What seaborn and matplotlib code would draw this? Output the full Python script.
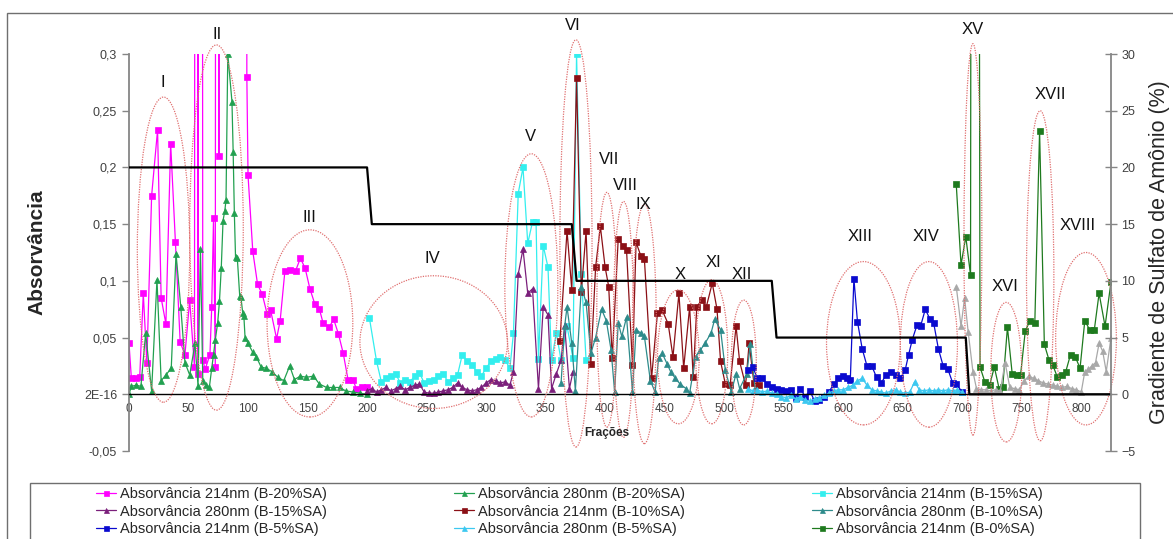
#!/usr/bin/env python3
# coding: utf-8
import pandas as pd
import seaborn as sns
import matplotlib.pyplot as plt
from matplotlib.patches import Ellipse, Rectangle
from matplotlib.ticker import MultipleLocator

# ------------------------------------------------
# Data
# ------------------------------------------------
HI = 3.0  # readings above the top of the scale (clipped by the axes)

b20_214_x = [0, 2, 6, 9, 12, 15, 19, 24, 27, 31, 35, 39, 43, 47, 51, 55, 57, 58, 60, 62,
             64, 68, 69.5, 71, 72.5, 74, 75.5, 77, 85, 98, 99, 100, 104, 108, 112, 116, 119,
             124, 127, 131, 135, 140, 144, 148, 152, 156, 160, 163, 168, 172, 176, 180, 184,
             188, 191, 196, 200]
b20_214_y = [0.045, 0.014, 0.014, 0.015, 0.089, 0.028, 0.175, 0.233, 0.085, 0.062, 0.221,
             0.134, 0.046, 0.035, 0.083, 0.024, HI, 0.018, HI, 0.030, 0.022, 0.035, 0.077,
             0.155, 0.024, HI, 0.210, HI, HI, HI, 0.280, 0.193, 0.126, 0.097, 0.088, 0.071,
             0.074, 0.049, 0.065, 0.109, 0.110, 0.109, 0.120, 0.111, 0.093, 0.080, 0.075,
             0.063, 0.059, 0.066, 0.053, 0.036, 0.013, 0.013, 0.005, 0.006, 0.006]

b20_280_x = [0, 2, 6, 10, 14, 19, 23.5, 27, 31, 35.5, 39.5, 43.5, 47, 51, 55.5, 58, 60, 62,
             65, 67.5, 69.5, 71, 72.5, 74.5, 76, 77.5, 79, 80.5, 81.5, 83, 86.5, 87.5, 88.5,
             89.5, 91, 93, 94, 95.5, 96.5, 97.5, 100, 104, 107, 111, 115, 120, 125, 130, 135,
             139, 144, 149, 155, 160, 166, 171, 177, 182, 188, 194, 200]
b20_280_y = [0.0, 0.007, 0.008, 0.007, 0.054, 0.003, 0.101, 0.012, 0.017, 0.023, 0.124, 0.077,
             0.028, 0.017, 0.045, 0.007, 0.128, 0.012, 0.008, 0.006, 0.023, 0.035, 0.048,
             0.063, 0.082, 0.111, 0.153, 0.162, 0.171, 0.300, 0.258, 0.214, 0.160, 0.121,
             0.120, 0.087, 0.086, 0.072, 0.069, 0.050, 0.045, 0.037, 0.033, 0.024, 0.023,
             0.020, 0.015, 0.012, 0.025, 0.013, 0.016, 0.015, 0.016, 0.009, 0.006, 0.006,
             0.006, 0.003, 0.002, 0.001, 0.000]

b15_214_x = [202, 208, 212, 216, 220, 224, 228, 232, 236, 240, 244, 248, 252, 256, 260, 264,
             268, 272, 276, 280, 284, 288, 292, 296, 300, 304, 308, 312, 316, 320, 323, 327,
             331, 335, 339, 342, 344, 348, 352, 355, 359, 363, 368, 373, 376, 380, 384]
b15_214_y = [0.067, 0.029, 0.011, 0.014, 0.016, 0.018, 0.010, 0.013, 0.011, 0.016, 0.019,
             0.010, 0.012, 0.013, 0.016, 0.018, 0.011, 0.014, 0.017, 0.035, 0.029, 0.026,
             0.020, 0.016, 0.023, 0.029, 0.031, 0.033, 0.030, 0.023, 0.054, 0.177, 0.200,
             0.133, 0.152, 0.152, 0.031, 0.131, 0.112, 0.030, 0.054, 0.030, 0.060, 0.032,
             0.300, 0.106, 0.030]

b15_280_x = [200, 204, 208, 212, 216, 220, 224, 228, 232, 236, 240, 244, 248, 252, 256, 260,
             264, 268, 272, 276, 280, 284, 288, 292, 296, 300, 304, 308, 312, 316, 320, 323,
             327, 331, 335, 339, 344, 348, 352, 355, 359, 363, 366, 370, 373]
b15_280_y = [0.003, 0.005, 0.002, 0.004, 0.006, 0.003, 0.005, 0.007, 0.004, 0.006, 0.008,
             0.009, 0.002, 0.001, 0.001, 0.002, 0.003, 0.004, 0.006, 0.010, 0.006, 0.004,
             0.003, 0.004, 0.006, 0.010, 0.013, 0.012, 0.010, 0.011, 0.008, 0.020, 0.106,
             0.128, 0.089, 0.093, 0.005, 0.077, 0.070, 0.005, 0.018, 0.030, 0.061, 0.005,
             0.020]

b10_214_x = [362, 368, 372, 376, 380, 384, 388, 392, 396, 400, 403, 406, 411, 415, 418, 423,
             426, 430, 433, 439, 444, 448, 453, 457, 462, 466, 471, 474, 477, 481, 485, 490,
             494, 497, 501, 505, 510, 513, 518, 521, 525, 529]
b10_214_y = [0.047, 0.144, 0.092, 0.279, 0.090, 0.144, 0.027, 0.112, 0.148, 0.112, 0.095,
             0.032, 0.137, 0.131, 0.127, 0.026, 0.134, 0.122, 0.119, 0.014, 0.072, 0.074,
             0.062, 0.033, 0.089, 0.023, 0.077, 0.015, 0.077, 0.083, 0.077, 0.098, 0.075,
             0.029, 0.009, 0.008, 0.060, 0.029, 0.008, 0.045, 0.010, 0.008]

b10_280_x = [363, 366, 368, 372, 375, 380, 384, 388, 392, 397, 401, 405, 408, 411, 414, 418,
             423, 426, 430, 433, 438, 442, 445, 448, 452, 455, 459, 463, 468, 471, 476, 480,
             484, 489, 492, 497, 501, 506, 510, 513, 519, 522, 526]
b10_280_y = [0.010, 0.060, 0.077, 0.045, 0.003, 0.095, 0.081, 0.036, 0.050, 0.075, 0.065,
             0.039, 0.002, 0.063, 0.051, 0.068, 0.002, 0.057, 0.054, 0.051, 0.012, 0.002,
             0.032, 0.036, 0.027, 0.020, 0.014, 0.009, 0.005, 0.001, 0.033, 0.039, 0.045,
             0.054, 0.066, 0.057, 0.021, 0.002, 0.018, 0.005, 0.018, 0.044, 0.005]

b5_214_x = [520, 524, 528, 532, 536, 540, 544, 548, 552, 556, 560, 564, 568, 572, 576, 580,
            584, 588, 592, 596, 600, 603, 606, 609, 612, 616, 620, 624, 628, 632, 636, 640,
            644, 648, 652, 655, 658, 662, 665, 669, 673, 676, 680, 684, 688, 692, 695, 700]
b5_214_y = [0.021, 0.024, 0.014, 0.014, 0.009, 0.006, 0.005, 0.004, 0.003, 0.004, -0.003,
            0.005, -0.002, 0.003, -0.006, -0.005, -0.002, 0.002, 0.009, 0.014, 0.016, 0.014,
            0.013, 0.102, 0.064, 0.040, 0.025, 0.025, 0.015, 0.010, 0.017, 0.020, 0.017,
            0.014, 0.021, 0.035, 0.048, 0.061, 0.060, 0.075, 0.066, 0.063, 0.040, 0.025,
            0.022, 0.010, 0.009, 0.002]

b5_280_x = list(range(520, 701, 4))
b5_280_y = [0.005, 0.003, 0.004, 0.002, 0.003, 0.001, 0.000, -0.002, -0.003, -0.001,
            -0.004, -0.002, -0.005, -0.006, -0.004, -0.003, -0.001, 0.001, 0.003, 0.004,
            0.004, 0.006, 0.008, 0.012, 0.014, 0.008, 0.004, 0.003, 0.002, 0.001,
            0.003, 0.004, 0.002, 0.001, 0.002, 0.011, 0.004, 0.003, 0.004, 0.003,
            0.004, 0.003, 0.004, 0.003, 0.004, 0.002]

b0_214_x = [695, 699, 703, 707, 710, 715, 719, 723, 727, 731, 734, 738, 742, 746, 749, 753,
            757, 761, 765, 769, 773, 776, 780, 784, 787, 791, 795, 799, 803, 807, 811, 815,
            820, 825]
b0_214_y = [0.185, 0.114, 0.139, 0.105, HI, 0.024, 0.011, 0.008, 0.024, 0.005, 0.006, 0.059,
            0.018, 0.017, 0.017, 0.056, 0.065, 0.063, 0.232, 0.044, 0.030, 0.026, 0.015,
            0.017, 0.020, 0.035, 0.033, 0.023, 0.065, 0.057, 0.057, 0.089, 0.060, 0.099]

b0_280_x = [695, 699, 702, 705, 709, 712, 716, 720, 724, 728, 732, 736, 740, 744, 748, 752,
            756, 760, 764, 768, 772, 776, 780, 784, 788, 792, 796, 800, 803, 806, 809, 812,
            815, 818, 821, 825]
b0_280_y = [0.095, 0.060, 0.085, 0.055, 0.020, 0.005, 0.004, 0.004, 0.003, 0.004, 0.003,
            0.028, 0.006, 0.005, 0.004, 0.012, 0.016, 0.014, 0.012, 0.010, 0.009, 0.008,
            0.007, 0.006, 0.007, 0.005, 0.004, 0.002, 0.020, 0.022, 0.025, 0.028, 0.045,
            0.038, 0.020, 0.050]

# ammonium sulfate step gradient (right axis, %)
grad_x = [0, 200, 204, 372, 376, 540, 544, 703, 706, 825]
grad_y = [20, 20, 15, 15, 10, 10, 5, 5, 0, 0]

# peak groups: roman numeral, centre (fraction, abs), width, height, label position
peak_names = ["I", "II", "III", "IV", "V", "VI", "VII", "VIII", "IX", "X", "XI", "XII",
              "XIII", "XIV", "XV", "XVI", "XVII", "XVIII"]
peak_cx = [29, 73.5, 152, 256, 338, 375.5, 401.5, 415.5, 433, 461.5, 489.5, 516.5,
           617, 672, 709, 737, 765.5, 804]
peak_cy = [0.1275, 0.147, 0.0625, 0.046, 0.096, 0.133, 0.0745, 0.066, 0.062, 0.033,
           0.0375, 0.028, 0.045, 0.044, 0.1365, 0.0195, 0.1045, 0.049]
peak_w = [44, 45, 72, 124, 44.5, 27, 17, 17, 20, 35, 27, 21, 62, 48, 15, 26, 23, 51]
peak_h = [0.269, 0.322, 0.165, 0.117, 0.232, 0.359, 0.207, 0.208, 0.211, 0.118, 0.127,
          0.110, 0.144, 0.146, 0.345, 0.123, 0.291, 0.152]
label_x = [28.6, 74, 152, 254.5, 337, 373, 403, 417, 432, 463, 491, 515, 614.6, 670, 709,
           736, 774, 797]
label_y = [0.275, 0.317, 0.156, 0.12, 0.227, 0.325, 0.207, 0.184, 0.167, 0.106, 0.116,
           0.106, 0.139, 0.139, 0.322, 0.095, 0.264, 0.149]

series = [
    ("Absorvância 214nm (B-20%SA)", b20_214_x, b20_214_y, "#FF00FF", "s"),
    ("Absorvância 280nm (B-20%SA)", b20_280_x, b20_280_y, "#22A050", "^"),
    ("Absorvância 214nm (B-15%SA)", b15_214_x, b15_214_y, "#33EEEE", "s"),
    ("Absorvância 280nm (B-15%SA)", b15_280_x, b15_280_y, "#7B1F7B", "^"),
    ("Absorvância 214nm (B-10%SA)", b10_214_x, b10_214_y, "#8B1016", "s"),
    ("Absorvância 280nm (B-10%SA)", b10_280_x, b10_280_y, "#2E8B8B", "^"),
    ("Absorvância 214nm (B-5%SA)", b5_214_x, b5_214_y, "#0A0ACF", "s"),
    ("Absorvância 280nm (B-5%SA)", b5_280_x, b5_280_y, "#3CC8F0", "^"),
    ("Absorvância 214nm (B-0%SA)", b0_214_x, b0_214_y, "#1E7A1E", "s"),
    (None, b0_280_x, b0_280_y, "#A8A8A8", "^"),
]

# ------------------------------------------------
# Plot
# ------------------------------------------------
sns.set_theme(style="white")
plt.rcParams['font.family'] = ['Liberation Sans', 'DejaVu Sans']

W, H = 1173, 539
fig = plt.figure(figsize=(W / 100, H / 100), dpi=100)
ax = fig.add_axes([129 / W, 1 - 451 / H, (1111 - 129) / W, (451 - 54) / H])
ax2 = ax.twinx()

for name, xs, ys, color, marker in series:
    df = pd.DataFrame({'Frações': xs, 'Absorvância': ys})
    sns.lineplot(data=df, x='Frações', y='Absorvância', ax=ax, color=color, marker=marker,
                 markersize=4.5, markeredgecolor=color, markeredgewidth=0.5, linewidth=0.9,
                 estimator=None, sort=False, legend=False, label=name)

grad = pd.DataFrame({'Frações': grad_x, 'Gradiente': grad_y})
sns.lineplot(data=grad, x='Frações', y='Gradiente', ax=ax2, color='black', linewidth=1.6,
             estimator=None, sort=False, legend=False)

ax.set_xlim(0, 825)
ax.set_ylim(-0.05, 0.3)
ax2.set_ylim(-5, 30)
ax.set_xlabel('')
ax.set_ylabel('')
ax2.set_xlabel('')
ax2.set_ylabel('')

# axes styling (Excel look)
for s in ['top', 'right']:
    ax.spines[s].set_visible(False)
for s in ['top', 'left', 'bottom']:
    ax2.spines[s].set_visible(False)
ax.spines['left'].set_color('#868686')
ax.spines['left'].set_linewidth(1.3)
ax2.spines['right'].set_color('#868686')
ax2.spines['right'].set_linewidth(1.3)
ax.spines['bottom'].set_position(('data', 0))
ax.spines['bottom'].set_color('black')
ax.spines['bottom'].set_linewidth(1.0)

ax.xaxis.set_major_locator(MultipleLocator(50))
ax.xaxis.set_minor_locator(MultipleLocator(4))
ax.tick_params(axis='x', which='both', direction='inout', length=5, width=0.8,
               color='black', labelsize=8.5, labelcolor='#404040', pad=4)
ax.set_yticks([0.3, 0.25, 0.2, 0.15, 0.1, 0.05, 0, -0.05])
ax.set_yticklabels(["0,3", "0,25", "0,2", "0,15", "0,1", "0,05", "2E-16", "-0,05"])
ax.tick_params(axis='y', direction='out', length=5, width=1, color='#868686',
               labelsize=9, labelcolor='#404040', left=True)
ax2.set_yticks([30, 25, 20, 15, 10, 5, 0, -5])
ax2.tick_params(axis='y', direction='inout', length=8, width=1, color='#868686',
                labelsize=9, labelcolor='#404040', right=True)
ax.grid(False)
ax2.grid(False)

# peak groups
for i, name in enumerate(peak_names):
    ax.add_patch(Ellipse((peak_cx[i], peak_cy[i]), peak_w[i], peak_h[i], fill=False,
                         edgecolor='#E07070', linestyle=(0, (1, 1)), linewidth=0.9,
                         clip_on=False, zorder=5))
    ax.text(label_x[i], label_y[i], name, ha='center', va='center', fontsize=12,
            color='#111111', clip_on=False, zorder=6)

# titles
fig.text(37 / W, 1 - 252 / H, 'Absorvância', rotation=90, ha='center', va='center',
         fontsize=15, fontweight='bold')
fig.text(1159 / W, 1 - 252 / H, 'Gradiente de Sulfato de Amônio (%)', rotation=90,
         ha='center', va='center', fontsize=15.5)
fig.text(607 / W, 1 - 433 / H, 'Frações', ha='center', va='center', fontsize=8.5,
         fontweight='bold')

# chart border and legend box
fig.add_artist(Rectangle((7 / W, -0.1), 1.2, 1.1 - 13 / H, transform=fig.transFigure,
                         fill=False, edgecolor='#6f6f6f', linewidth=1))
fig.add_artist(Rectangle((30 / W, -0.1), (1140 - 30) / W, 0.1 + 1 - 483 / H,
                         transform=fig.transFigure, fill=False, edgecolor='#6f6f6f',
                         linewidth=1))

handles, labels = ax.get_legend_handles_labels()
order = [0, 3, 6, 1, 4, 7, 2, 5, 8]
fig.legend([handles[i] for i in order], [labels[i] for i in order], ncol=3,
           loc='upper left', bbox_to_anchor=(88 / W, 1 - 479 / H), frameon=False,
           prop={'size': 10.5}, handlelength=1.4, handletextpad=0.25, columnspacing=8.7,
           labelspacing=0.24, borderpad=0.05, markerscale=0.8)

plt.savefig('out.png', dpi=100)
plt.close(fig)
